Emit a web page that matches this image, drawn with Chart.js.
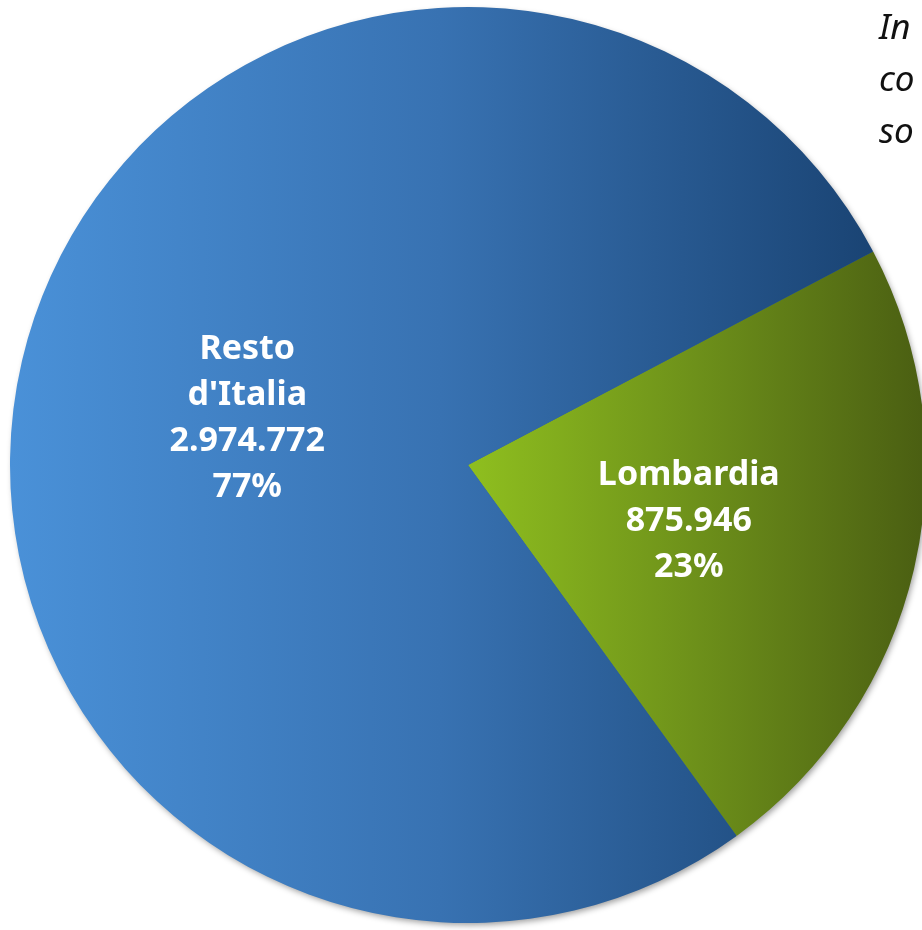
<!DOCTYPE html>
<html lang="it">
<head>
  <meta charset="UTF-8" />
  <title>Lombardia vs Resto d'Italia</title>
  <script src="https://cdn.jsdelivr.net/npm/chart.js"></script>
  <style>
    html, body {
      margin: 0;
      padding: 0;
      background: #ffffff;
      overflow: hidden;
      width: 922px;
      height: 930px;
    }
    #wrap {
      position: absolute;
      left: 0;
      top: 0;
    }
    .note {
      position: absolute;
      left: 879px;
      top: 0px;
      font-family: "Noto Sans", sans-serif;
      font-style: italic;
      font-size: 35px;
      line-height: 52px;
      color: #111;
      white-space: nowrap;
    }
  </style>
</head>
<body>
  <div id="wrap">
    <canvas id="torta" width="936" height="930"></canvas>
  </div>
  <div class="note">In<br>co<br>so</div>

  <script>
    // dati
    const etichette = [["Lombardia"], ["Resto", "d'Italia"]];
    const valori = [875946, 2974772];

    const totale = valori.reduce((a, b) => a + b, 0);

    function formatta(n) {
      return String(n).replace(/\B(?=(\d{3})+(?!\d))/g, ".");
    }

    // gradienti orizzontali come nell'originale
    function riempimento(context) {
      const chart = context.chart;
      const area = chart.chartArea;
      if (!area) return "#3a72b4";
      const ctx = chart.ctx;
      if (context.dataIndex === 0) {
        const g = ctx.createLinearGradient(468, 0, 926, 0);
        g.addColorStop(0, "#8fbf1f");
        g.addColorStop(0.5, "#6d901a");
        g.addColorStop(1, "#4a5e12");
        return g;
      }
      const g = ctx.createLinearGradient(10, 0, 870, 0);
      g.addColorStop(0, "#4a91d8");
      g.addColorStop(0.5, "#3872b2");
      g.addColorStop(1, "#1a4474");
      return g;
    }

    // ombra solo sul bordo esterno della torta
    const ombra = {
      id: "ombra",
      beforeDatasetsDraw(chart) {
        const arc = chart.getDatasetMeta(0).data[0];
        if (!arc) return;
        const p = arc.getProps(["x", "y", "outerRadius"], true);
        const ctx = chart.ctx;
        ctx.save();
        ctx.shadowColor = "rgba(0,0,0,0.4)";
        ctx.shadowBlur = 6;
        ctx.shadowOffsetX = 2;
        ctx.shadowOffsetY = 3;
        ctx.fillStyle = "#2d5f96";
        ctx.beginPath();
        ctx.arc(p.x, p.y, p.outerRadius - 1, 0, Math.PI * 2);
        ctx.fill();
        ctx.restore();
      }
    };

    const etichetteFette = {
      id: "etichetteFette",
      afterDraw(chart) {
        const ctx = chart.ctx;
        const meta = chart.getDatasetMeta(0);
        ctx.save();
        ctx.fillStyle = "#ffffff";
        ctx.font = "bold 34px 'Noto Sans', sans-serif";
        ctx.textAlign = "center";
        ctx.textBaseline = "middle";
        meta.data.forEach((arc, i) => {
          const p = arc.getProps(["x", "y", "startAngle", "endAngle", "outerRadius"], true);
          const mid = (p.startAngle + p.endAngle) / 2;
          const r = p.outerRadius * 0.495;
          const cx = p.x + Math.cos(mid) * r;
          const cy = p.y + Math.sin(mid) * r + 5;
          const righe = etichette[i].concat([
            formatta(valori[i]),
            Math.round(valori[i] / totale * 100) + "%"
          ]);
          const passo = 46;
          const y0 = cy - (righe.length - 1) * passo / 2;
          righe.forEach((t, k) => ctx.fillText(t, cx, y0 + k * passo));
        });
        ctx.restore();
      }
    };

    new Chart(document.getElementById("torta").getContext("2d"), {
      type: "pie",
      data: {
        labels: etichette.map(e => e.join(" ")),
        datasets: [{
          data: valori,
          backgroundColor: riempimento,
          borderWidth: 0,
          hoverOffset: 0,
          offset: 0
        }]
      },
      options: {
        responsive: false,
        animation: false,
        rotation: 62.2,
        layout: { padding: 7 },
        plugins: {
          legend: { display: false },
          tooltip: { enabled: false }
        }
      },
      plugins: [ombra, etichetteFette]
    });
  </script>
</body>
</html>
